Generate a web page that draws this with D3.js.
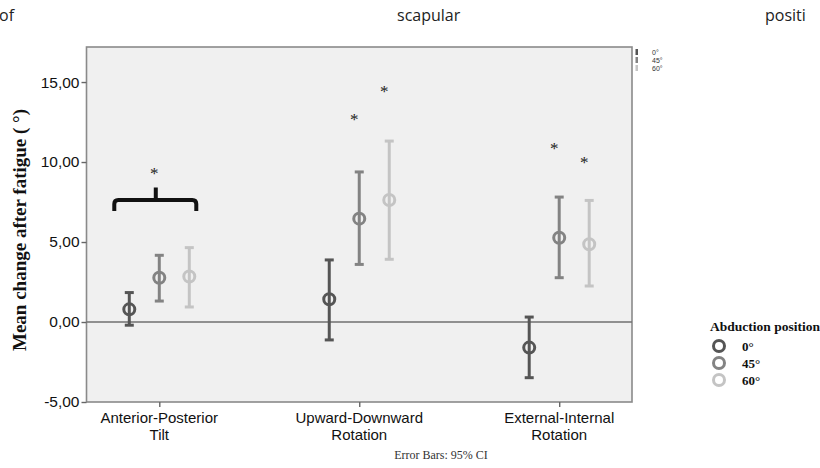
<!DOCTYPE html>
<html>
<head>
<meta charset="utf-8">
<script src="https://cdn.jsdelivr.net/npm/d3@7"></script>
<style>
  body { margin: 0; background: #fff; }
  svg { display: block; }
</style>
</head>
<body>
<div id="chart"></div>
<script>
// Data
const categories = ["Anterior-Posterior Tilt", "Upward-Downward Rotation", "External-Internal Rotation"];
const categoryLines = [["Anterior-Posterior", "Tilt"], ["Upward-Downward", "Rotation"], ["External-Internal", "Rotation"]];
const positions = ["0°", "45°", "60°"];
const meanValues = [[0.79, 2.77, 2.84], [1.42, 6.46, 7.63], [-1.60, 5.27, 4.86]];
const ciLower = [[-0.20, 1.31, 0.94], [-1.12, 3.60, 3.92], [-3.48, 2.77, 2.25]];
const ciUpper = [[1.84, 4.17, 4.65], [3.88, 9.38, 11.31], [0.31, 7.81, 7.60]];
const yTicks = [-5, 0, 5, 10, 15];
// significance marks: category index, position index, height
const asterisks = [[0, 1, 9.5], [1, 1, 12.9], [1, 2, 14.6], [2, 1, 11.06], [2, 2, 10.17]];
const braceLevels = [6.94, 7.62, 8.4];

const colors = ["#555555", "#838383", "#c4c4c4"];

const width = 820, height = 468;
const svg = d3.select("#chart").append("svg")
    .attr("width", width)
    .attr("height", height);

const plot = { left: 86.5, right: 632, top: 47, bottom: 402 };

const y = d3.scaleLinear().domain([-5, 17.19]).range([plot.bottom, plot.top]);
const x = d3.scalePoint().domain(categories).range([plot.left, plot.right]).padding(0.364);
const offset = d3.scalePoint().domain(positions).range([-30, 30]);

// caption fragments across the top
const topText = svg.append("g")
    .style("font-family", "'Open Sans', sans-serif")
    .style("font-size", "16px")
    .attr("fill", "#222");
topText.append("text").attr("x", -1).attr("y", 21).text("of");
topText.append("text").attr("x", 397).attr("y", 21).text("scapular");
topText.append("text").attr("x", 765).attr("y", 21).text("positi");

// plot background and frame
svg.append("rect")
    .attr("x", plot.left).attr("y", plot.top)
    .attr("width", plot.right - plot.left).attr("height", plot.bottom - plot.top)
    .attr("fill", "#f0f0f0")
    .attr("stroke", "#8a8a8a")
    .attr("stroke-width", 1.6);

// reference line at 0
svg.append("line")
    .attr("x1", plot.left).attr("x2", plot.right)
    .attr("y1", y(0)).attr("y2", y(0))
    .attr("stroke", "#707070")
    .attr("stroke-width", 1.6);

// y axis
const yAxis = svg.append("g")
    .attr("transform", `translate(${plot.left},0)`)
    .call(d3.axisLeft(y).tickValues(yTicks).tickSize(5).tickPadding(2)
        .tickFormat(d => d.toFixed(2).replace(".", ",")));
yAxis.select(".domain").remove();
yAxis.selectAll("line").attr("stroke", "#666").attr("stroke-width", 1.4);
yAxis.selectAll("text")
    .style("font-family", "'Liberation Sans', Arial, sans-serif")
    .style("font-size", "15.5px")
    .attr("fill", "#111");

// x axis
const xAxis = svg.append("g")
    .attr("transform", `translate(0,${plot.bottom})`)
    .call(d3.axisBottom(x).tickSize(5).tickFormat(""));
xAxis.select(".domain").remove();
xAxis.selectAll("line").attr("stroke", "#666").attr("stroke-width", 1.4);

const xLabels = svg.append("g")
    .style("font-family", "'Liberation Sans', Arial, sans-serif")
    .style("font-size", "15px")
    .attr("fill", "#111")
    .attr("text-anchor", "middle");
categories.forEach((c, i) => {
    categoryLines[i].forEach((line, j) => {
        xLabels.append("text")
            .attr("x", x(c))
            .attr("y", plot.bottom + 21 + j * 16.5)
            .text(line);
    });
});

// y axis title
svg.append("text")
    .attr("transform", `translate(26,230) rotate(-90)`)
    .attr("text-anchor", "middle")
    .style("font-family", "'Liberation Serif', 'Times New Roman', serif")
    .style("font-weight", "bold")
    .style("font-size", "19px")
    .attr("fill", "#111")
    .text("Mean change after fatigue ( °)");

// error bars with mean markers
const points = [];
categories.forEach((c, i) => {
    positions.forEach((p, j) => {
        points.push({ cat: c, pos: p, j: j, mean: meanValues[i][j], lo: ciLower[i][j], hi: ciUpper[i][j] });
    });
});

const marks = svg.append("g").selectAll("g")
    .data(points)
    .enter().append("g")
    .attr("transform", d => `translate(${x(d.cat) + offset(d.pos)},0)`);

marks.append("circle")
    .attr("cy", d => y(d.mean))
    .attr("r", 5.5)
    .attr("fill", "none")
    .attr("stroke", d => colors[d.j])
    .attr("stroke-width", 3);

marks.append("line")
    .attr("y1", d => y(d.lo)).attr("y2", d => y(d.hi))
    .attr("stroke", d => colors[d.j])
    .attr("stroke-width", 3);

marks.selectAll(".cap")
    .data(d => [d, d].map((e, k) => ({ v: k ? e.hi : e.lo, j: e.j })))
    .enter().append("line")
    .attr("class", "cap")
    .attr("x1", -4.5).attr("x2", 4.5)
    .attr("y1", d => y(d.v)).attr("y2", d => y(d.v))
    .attr("stroke", d => colors[d.j])
    .attr("stroke-width", 3);

// asterisks
svg.append("g").selectAll("text")
    .data(asterisks)
    .enter().append("text")
    .attr("x", d => x(categories[d[0]]) + offset(positions[d[1]]) - 5)
    .attr("y", d => y(d[2]) + 9)
    .attr("text-anchor", "middle")
    .style("font-family", "'Liberation Serif', 'Times New Roman', serif")
    .style("font-size", "17px")
    .attr("fill", "#222")
    .text("*");

// brace over the first group
const bx = x(categories[0]);
const bl = bx + offset(positions[0]) - 15, br = bx + offset(positions[2]) + 7, bm = bx - 3.5;
const yEnd = y(braceLevels[0]), yBar = y(braceLevels[1]), ySpike = y(braceLevels[2]);
const rr = 4;
svg.append("path")
    .attr("d", `M${bl},${yEnd} L${bl},${yBar + rr} Q${bl},${yBar} ${bl + rr},${yBar}` +
        ` L${br - rr},${yBar} Q${br},${yBar} ${br},${yBar + rr} L${br},${yEnd}` +
        ` M${bm},${yBar} L${bm},${ySpike}`)
    .attr("fill", "none")
    .attr("stroke", "#111")
    .attr("stroke-width", 4);

// small legend at top right of the frame
const miniLegend = svg.append("g");
positions.forEach((p, j) => {
    const ly = 52 + j * 8;
    miniLegend.append("rect")
        .attr("x", 635.5).attr("y", ly - 3)
        .attr("width", 2.5).attr("height", 6)
        .attr("fill", colors[j]);
    miniLegend.append("text")
        .attr("x", 652).attr("y", ly + 2.5)
        .style("font-family", "'Liberation Sans', Arial, sans-serif")
        .style("font-size", "7px")
        .attr("fill", "#333")
        .text(p);
});

// main legend
const legend = svg.append("g")
    .style("font-family", "'Liberation Serif', 'Times New Roman', serif")
    .style("font-weight", "bold")
    .attr("fill", "#111");
legend.append("text")
    .attr("x", 710).attr("y", 331)
    .style("font-size", "13.5px")
    .text("Abduction position");
positions.forEach((p, j) => {
    const ly = 346 + j * 17;
    legend.append("circle")
        .attr("cx", 719).attr("cy", ly)
        .attr("r", 5.5)
        .attr("fill", "none")
        .attr("stroke", colors[j])
        .attr("stroke-width", 3);
    legend.append("text")
        .attr("x", 742).attr("y", ly + 5)
        .style("font-size", "13px")
        .text(p);
});

// footer note
svg.append("text")
    .attr("x", 441).attr("y", 459)
    .attr("text-anchor", "middle")
    .style("font-family", "'Liberation Serif', 'Times New Roman', serif")
    .style("font-size", "12px")
    .attr("fill", "#333")
    .text("Error Bars: 95% CI");
</script>
</body>
</html>
